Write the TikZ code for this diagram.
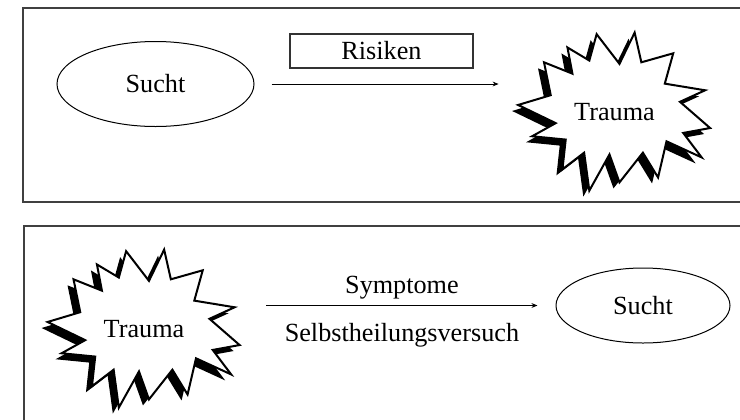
\documentclass[tikz,border=0pt]{standalone}
\usepackage{fontspec}
\setmainfont{Liberation Serif}
\usetikzlibrary{arrows.meta,backgrounds,shapes.geometric}
\newcommand{\burstshape}[1]{%
  \path[#1] (0.409,0.010) -- (0.528,0.198) -- (0.607,0) -- (0.642,0.188)
    -- (0.808,0.131) -- (0.764,0.323) -- (0.974,0.365) -- (0.843,0.438)
    -- (1,0.604) -- (0.860,0.635) -- (0.956,0.790) -- (0.773,0.688)
    -- (0.729,0.917) -- (0.650,0.760) -- (0.528,0.948) -- (0.476,0.771)
    -- (0.371,1) -- (0.344,0.760) -- (0.231,0.865) -- (0.248,0.677)
    -- (0.073,0.656) -- (0.196,0.573) -- (0,0.458) -- (0.170,0.396)
    -- (0.135,0.188) -- (0.283,0.260) -- (0.257,0.094) -- (0.371,0.177)
    -- cycle;}
\newcommand{\burst}[1]{%
  \begin{scope}[shift={(#1.north west)},x=96pt,y=-79pt]
    \begin{scope}[shift={(-3pt,-3pt)}]
      \burstshape{fill=black}
    \end{scope}
    \burstshape{draw=black,fill=white,line width=1pt,miter limit=20}
  \end{scope}}
\begin{document}
\begin{tikzpicture}[x=0.5pt,y=-0.5pt,
    every node/.style={font=\fontsize{13.1}{15}\selectfont},
    frame/.style={draw=black!75,line width=0.6pt},
    ell/.style={draw,ellipse,line width=0.5pt,inner sep=0pt},
    box/.style={draw=black!80,line width=0.6pt,minimum width=91.5pt,minimum height=17pt,inner sep=0pt},
    trauma/.style={minimum width=96pt,minimum height=79pt,inner sep=0pt},
    arr/.style={-{Stealth[length=3pt,width=2.4pt]},line width=0.5pt}]
      \useasboundingbox (0,0) rectangle (740,419);
      \clip (0,0) rectangle (740,419);
      \draw[frame] (23,8) rectangle (760,202);
      \draw[frame] (24,226) rectangle (760,440);
      \node[ell,minimum width=98.5pt,minimum height=42.5pt] (sucht1) at (155.5,84) {Sucht};
      \node[box] (risk) at (381.5,51) {Risiken};
      \node[trauma] (trauma1) at (614.5,112) {Trauma};
      \node[trauma] (trauma2) at (144,329) {Trauma};
      \node[ell,minimum width=87pt,minimum height=37.5pt] (sucht2) at (643,305.5) {Sucht};
      \begin{pgfonlayer}{background}
        \burst{trauma1}
        \burst{trauma2}
      \end{pgfonlayer}
      \draw[arr] ([xshift=8.5pt]sucht1.east) -- ([xshift=-9.75pt]sucht1.east -| trauma1.west);
      \draw[arr] ([xshift=13pt]trauma2.east |- sucht2.west) -- ([xshift=-9pt]sucht2.west)
        node[midway,yshift=9pt] (symp) {Symptome}
        node[midway,yshift=-15pt] (selbst) {Selbstheilungsversuch};
\end{tikzpicture}
\end{document}
